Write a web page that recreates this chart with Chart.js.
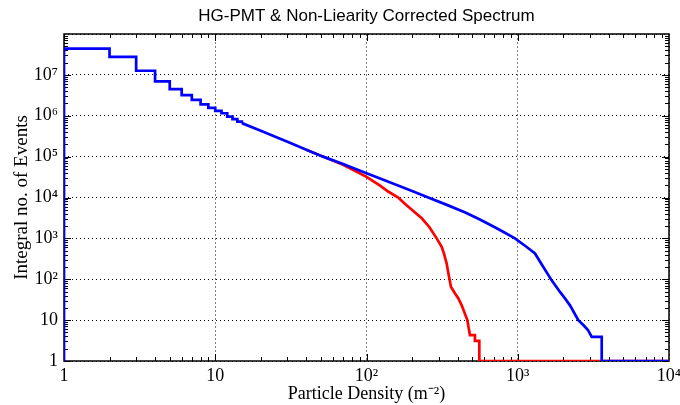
<!DOCTYPE html>
<html>
<head>
<meta charset="utf-8">
<script src="https://cdn.jsdelivr.net/npm/chart.js@4/dist/chart.umd.min.js"></script>
<style>
  body { margin: 0; background: #fff; }
  #wrap { width: 680px; height: 405px; }
</style>
</head>
<body>
<div id="wrap"><canvas id="spectrum"></canvas></div>
<script>
const chartTitle = 'HG-PMT & Non-Liearity Corrected Spectrum';

// Low-density part of the blue spectrum: integer bins (step histogram)
const stepDensity = [1, 1, 2, 3, 4, 5, 6, 7, 8, 9, 10, 11, 12, 13, 14, 15];
const stepEvents = [1, 4.4e7, 2.75e7, 1.26e7, 6.9e6, 4.5e6, 3.2e6, 2.45e6, 1.9e6, 1.55e6, 1.32e6, 1.15e6, 9.5e5, 8.3e5, 7.2e5, 6.6e5];

// HG-PMT spectrum (blue), continuous part
const hgDensity = [15, 20, 30, 40, 51.6, 70, 100, 123, 160, 204, 256, 340, 450, 562, 700, 800, 958, 1146, 1300, 1476, 1676, 1902, 2052, 2215, 2513, 2712, 2913, 3083, 3590, 3590, 10000];
const hgEvents = [6.6e5, 4.3e5, 2.3e5, 1.48e5, 1e5, 6.6e4, 3.9e4, 2.9e4, 2.0e4, 1.4e4, 1e4, 6.6e3, 4.3e3, 2.9e3, 1.9e3, 1.45e3, 1e3, 615, 427, 200, 94, 49, 34, 23, 10, 7.6, 5.7, 3.9, 3.9, 1, 1];

// Non-linearity corrected spectrum (red)
const nlDensity = [40, 51.6, 70, 100, 123, 139, 162, 180, 232, 260, 291, 314, 325, 339, 348, 362, 385, 405, 426, 464, 483, 521, 521, 557, 557, 10000];
const nlEvents = [1.48e5, 1e5, 6.3e4, 3.2e4, 1.95e4, 1.4e4, 1e4, 6.9e3, 3.1e3, 1.9e3, 1e3, 620, 430, 240, 138, 65, 45, 34, 23, 10, 4.3, 4.3, 3.1, 3.1, 1, 1];

const xMajor = [1, 10, 100, 1000, 10000];
const xTickLabels = ['1', '10', '10²', '10³', '10⁴'];
const yMajor = [1, 10, 1e2, 1e3, 1e4, 1e5, 1e6, 1e7, 1e8];
const yTickLabels = ['1', '10', '10²', '10³', '10⁴', '10⁵', '10⁶', '10⁷', ''];

function toPoints(xs, ys) {
    return xs.map((x, i) => ({ x: x, y: ys[i] }));
}

// frame, inward tick marks and the title (centred over the plot area)
const framePlugin = {
    id: 'frame',
    beforeDatasetsDraw(chart) {
        const { ctx, chartArea: a, scales } = chart;
        ctx.save();
        ctx.strokeStyle = '#000';
        ctx.lineWidth = 1;
        ctx.beginPath();
        for (let d = 0; d < 4; d++) {
            for (let k = 1; k < 10; k++) {
                const px = Math.round(scales.x.getPixelForValue(k * Math.pow(10, d))) + 0.5;
                const len = k === 1 ? 7 : 4;
                ctx.moveTo(px, a.bottom); ctx.lineTo(px, a.bottom - len);
                ctx.moveTo(px, a.top); ctx.lineTo(px, a.top + len);
            }
        }
        for (let d = 0; d < 8; d++) {
            for (let k = 1; k < 10; k++) {
                const py = Math.round(scales.y.getPixelForValue(k * Math.pow(10, d))) + 0.5;
                const len = k === 1 ? 7 : 4;
                ctx.moveTo(a.left, py); ctx.lineTo(a.left + len, py);
                ctx.moveTo(a.right, py); ctx.lineTo(a.right - len, py);
            }
        }
        ctx.stroke();
        ctx.lineWidth = 1.5;
        ctx.strokeRect(a.left, a.top, a.right - a.left, a.bottom - a.top);

        ctx.fillStyle = '#000';
        ctx.font = '17px "Liberation Sans", Arial, sans-serif';
        ctx.textAlign = 'center';
        ctx.textBaseline = 'alphabetic';
        ctx.fillText(chartTitle, (a.left + a.right) / 2, 21);
        ctx.restore();
    }
};

const ctx = document.getElementById('spectrum').getContext('2d');
new Chart(ctx, {
    type: 'line',
    data: {
        datasets: [
            {
                data: toPoints(stepDensity, stepEvents),
                stepped: 'before',
                borderColor: '#0000ff',
                borderWidth: 2.7,
                pointRadius: 0,
            },
            {
                data: toPoints(hgDensity, hgEvents),
                borderColor: '#0000ff',
                borderWidth: 2.7,
                pointRadius: 0,
            },
            {
                data: toPoints(nlDensity, nlEvents),
                borderColor: '#ff0000',
                borderWidth: 2.7,
                pointRadius: 0,
            },
        ],
    },
    options: {
        responsive: true,
        maintainAspectRatio: false,
        animation: false,
        layout: { padding: { left: 0, right: 11, top: 34, bottom: 0 } },
        plugins: {
            legend: { display: false },
            tooltip: { enabled: false },
            title: { display: false },
        },
        scales: {
            x: {
                type: 'logarithmic',
                min: 1,
                max: 10000,
                afterBuildTicks: s => { s.ticks = xMajor.map(v => ({ value: v })); },
                afterFit: s => { s.height = 44; s.paddingLeft = 0; s.paddingRight = 0; },
                ticks: {
                    autoSkip: false,
                    maxRotation: 0,
                    padding: 4,
                    color: '#000',
                    font: { family: 'Liberation Serif, Times New Roman, serif', size: 18 },
                    callback: (v, i) => xTickLabels[i],
                },
                grid: { color: '#808080', drawTicks: false, lineWidth: 1 },
                border: { display: false, dash: [2, 2] },
                title: {
                    display: true,
                    text: 'Particle Density (m⁻²)',
                    color: '#000',
                    font: { family: 'Liberation Serif, Times New Roman, serif', size: 18 },
                    padding: { top: 0, bottom: 0 },
                },
            },
            y: {
                type: 'logarithmic',
                min: 1,
                max: 1e8,
                afterBuildTicks: s => { s.ticks = yMajor.map(v => ({ value: v })); },
                afterFit: s => { s.width = 64; s.paddingTop = 0; s.paddingBottom = 0; },
                ticks: {
                    autoSkip: false,
                    padding: 6,
                    color: '#000',
                    font: { family: 'Liberation Serif, Times New Roman, serif', size: 18 },
                    callback: (v, i) => yTickLabels[i],
                },
                grid: { color: '#000', drawTicks: false, lineWidth: 1 },
                border: { display: false, dash: [1, 3] },
                title: {
                    display: true,
                    text: 'Integral no. of Events',
                    color: '#000',
                    font: { family: 'Liberation Serif, Times New Roman, serif', size: 19 },
                    padding: { top: 11, bottom: 0 },
                },
            },
        },
    },
    plugins: [framePlugin],
});
</script>
</body>
</html>
